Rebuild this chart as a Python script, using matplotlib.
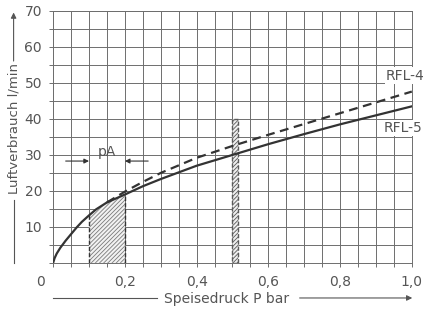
import numpy as np
import matplotlib.pyplot as plt
from matplotlib.patches import Rectangle

# Speisedruck (bar) und Luftverbrauch (l/min)
druck_rfl5 = [0, 0.004, 0.01, 0.02, 0.035, 0.05, 0.066, 0.08, 0.1, 0.12, 0.15, 0.2,
              0.25, 0.3, 0.4, 0.5, 0.6, 0.7, 0.8, 0.9, 1.0]
luft_rfl5 = [0, 1.3, 2.6, 4.2, 6.2, 8, 9.9, 11.4, 13.2, 14.9, 16.8, 19,
             21.3, 23.3, 27, 30, 33, 35.8, 38.5, 41, 43.5]
druck_rfl4 = [0.15, 0.2, 0.25, 0.3, 0.4, 0.5, 0.6, 0.7, 0.8, 0.9, 1.0]
luft_rfl4 = [16.8, 19.8, 22.5, 25, 29.2, 32.5, 35.6, 38.6, 41.6, 44.6, 47.6]

pa_bereich = [0.1, 0.2]      # Arbeitsbereich pA
band_druck = [0.5, 0.515]    # schmaler Bereich bei 0,5 bar
band_luft = 40

x_ticks = [0.2, 0.4, 0.6, 0.8, 1.0]
x_labels = ['0,2', '0,4', '0,6', '0,8', '1,0']
y_ticks = [10, 20, 30, 40, 50, 60, 70]

ink = '#333333'
txt = '#555555'
gitter = '#6e6e6e'
plt.rcParams['hatch.linewidth'] = 0.6

fig = plt.figure(figsize=(4.25, 3.13), dpi=100)
ax = fig.add_axes([0.125, 0.16, 0.844, 0.805])

ax.set_xlim(0, 1.0)
ax.set_ylim(0, 70)
ax.set_xticks(np.arange(0, 1.0001, 0.05), minor=True)
ax.set_yticks(np.arange(0, 70.001, 5), minor=True)
ax.set_xticks(x_ticks)
ax.set_xticklabels(x_labels)
ax.set_yticks(y_ticks)
ax.grid(True, which='both', color=gitter, lw=0.7)
ax.tick_params(which='both', length=3, width=0.7, color=gitter,
               labelsize=10, labelcolor=txt)
ax.tick_params(axis='x', pad=6)
ax.tick_params(axis='y', pad=5)
for s in ax.spines.values():
    s.set_color(gitter)
    s.set_linewidth(0.7)
ax.text(-0.035, -0.075, '0', transform=ax.transAxes, ha='center', va='center',
        fontsize=10, color=txt)

# Kurven
ax.plot(druck_rfl5, luft_rfl5, color=ink, lw=1.6, zorder=4)
ax.plot(druck_rfl4, luft_rfl4, color=ink, lw=1.6, ls=(0, (4, 2.5)), zorder=4)

# schraffierter Bereich pA
d = np.array(druck_rfl5)
l = np.array(luft_rfl5)
m = (d >= pa_bereich[0]) & (d <= pa_bereich[1])
ax.fill_between(d[m], 0, l[m], facecolor='#f2f2f2', edgecolor='#7a7a7a',
                hatch='////////', lw=0, zorder=3)
for xp, yp in zip([d[m][0], d[m][-1]], [l[m][0], l[m][-1]]):
    ax.plot([xp, xp], [0, yp], color=ink, lw=1.0, ls=(0, (3, 1.5)), zorder=4)

# schmaler Bereich bei 0,5 bar
ax.add_patch(Rectangle((band_druck[0], 0), band_druck[1] - band_druck[0], band_luft,
                       facecolor='#eeeeee', edgecolor='#5a5a5a', hatch='////////',
                       lw=1.0, ls=(0, (3, 1.5)), zorder=3))

# pA Pfeile
pfeil = dict(arrowstyle='-|>', color=ink, lw=0.8, mutation_scale=7,
             shrinkA=0, shrinkB=0)
ax.annotate('', xy=(pa_bereich[0], 28.3), xytext=(0.035, 28.3), arrowprops=pfeil)
ax.annotate('', xy=(pa_bereich[1], 28.3), xytext=(0.265, 28.3), arrowprops=pfeil)
ax.text(0.15, 30.8, 'pA', ha='center', va='center', fontsize=10, color=txt)

# Kurvenbeschriftung
ax.text(0.928, 52, 'RFL-4', ha='left', va='center', fontsize=10, color=txt,
        clip_on=False, bbox=dict(fc='white', ec='none', pad=1), zorder=5)
ax.text(0.922, 37.5, 'RFL-5', ha='left', va='center', fontsize=10, color=txt,
        clip_on=False, bbox=dict(fc='white', ec='none', pad=1), zorder=5)

# Achsenbeschriftung mit Pfeilen
pfeil2 = dict(arrowstyle='-|>', color=txt, lw=0.8, mutation_scale=8,
              shrinkA=0, shrinkB=0)
fig.text(0.032, 0.588, 'Luftverbrauch l/min', rotation=90, ha='center',
         va='center', fontsize=9.5, color=txt)
fig.add_artist(plt.Line2D([0.032, 0.032], [0.16, 0.36], color=txt, lw=0.8))
ax.annotate('', xy=(0.032, 0.96), xytext=(0.032, 0.805),
            xycoords='figure fraction', textcoords='figure fraction',
            arrowprops=pfeil2, annotation_clip=False)
fig.text(0.532, 0.045, 'Speisedruck P bar', ha='center', va='center',
         fontsize=10, color=txt)
fig.add_artist(plt.Line2D([0.125, 0.37], [0.048, 0.048], color=txt, lw=0.8))
ax.annotate('', xy=(0.97, 0.048), xytext=(0.705, 0.048),
            xycoords='figure fraction', textcoords='figure fraction',
            arrowprops=pfeil2, annotation_clip=False)

fig.savefig('out.png', dpi=100)
